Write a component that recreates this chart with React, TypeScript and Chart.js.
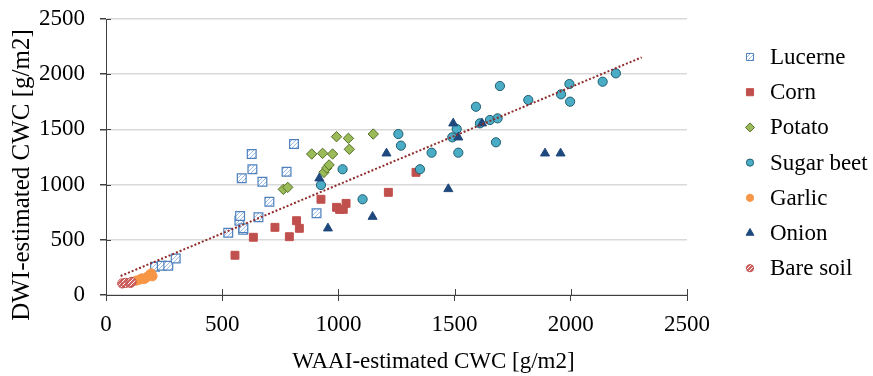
import React, { useEffect, useRef } from 'react';
import { Chart, registerables } from 'chart.js';
import { drawPoint } from 'chart.js/helpers';

Chart.register(...registerables);

// ---------- data ----------
const lucerneX = [211, 240, 268, 300, 526, 574, 577, 590, 591, 584, 627, 630, 656, 673, 703, 777, 809, 906];
const lucerneY = [256, 265, 265, 330, 564, 673, 716, 590, 604, 1057, 1277, 1139, 704, 1026, 845, 1117, 1368, 740];

const cornX = [555, 634, 727, 789, 820, 832, 925, 992, 1005, 1021, 1033, 1215, 1334];
const cornY = [360, 523, 613, 528, 673, 604, 867, 794, 775, 776, 830, 930, 1111];

const potatoX = [763, 782, 885, 932, 975, 938, 950, 960, 992, 1043, 1047, 1150];
const potatoY = [957, 975, 1277, 1283, 1277, 1111, 1150, 1178, 1434, 1419, 1320, 1458];

const sugarBeetX = [925, 1018, 1104, 1258, 1269, 1351, 1401, 1490, 1509, 1516, 1592, 1609, 1652, 1678, 1685, 1695, 1817, 1958, 1994, 1997, 2137, 2194];
const sugarBeetY = [996, 1139, 867, 1458, 1353, 1139, 1289, 1428, 1504, 1289, 1705, 1555, 1585, 1383, 1600, 1893, 1766, 1818, 1911, 1751, 1932, 2008];

const garlicX = [130, 145, 155, 165, 175, 185, 195, 200];
const garlicY = [130, 140, 150, 145, 160, 180, 195, 170];

const onionX = [918, 955, 1147, 1207, 1473, 1494, 1516, 1618, 1889, 1956];
const onionY = [1057, 604, 709, 1283, 960, 1555, 1428, 1555, 1283, 1283];

const bareSoilX = [70, 85, 105, 110];
const bareSoilY = [105, 110, 110, 118];

const trendX = [63, 2305];
const trendY = [172, 2153];

const axisTicks = [0, 500, 1000, 1500, 2000, 2500];
const xTitle = 'WAAI-estimated CWC [g/m2]';
const yTitle = 'DWI-estimated CWC [g/m2]';

// ---------- styles ----------
const FONT = "'Liberation Serif', 'Times New Roman', serif";
const FONT_SIZE = 23;
const AXIS_COLOR = '#404040';

const pts = (xs: number[], ys: number[]) => xs.map((x, i) => ({ x, y: ys[i] }));

function makePattern(bg: string, fg: string, size: number, lw: number): CanvasPattern | string {
  const c = document.createElement('canvas');
  c.width = size;
  c.height = size;
  const g = c.getContext('2d');
  if (!g) return bg;
  g.fillStyle = bg;
  g.fillRect(0, 0, size, size);
  g.strokeStyle = fg;
  g.lineWidth = lw;
  g.beginPath();
  g.moveTo(0, size);
  g.lineTo(size, 0);
  g.moveTo(-size / 2, size / 2);
  g.lineTo(size / 2, -size / 2);
  g.moveTo(size / 2, size * 1.5);
  g.lineTo(size * 1.5, size / 2);
  g.stroke();
  const p = g.createPattern(c, 'repeat');
  return p || bg;
}

export default function App() {
  const ref = useRef<HTMLCanvasElement | null>(null);

  useEffect(() => {
    document.body.style.margin = '0';
    const canvas = ref.current;
    if (!canvas) return;

    const lucerneFill = makePattern('#ffffff', '#9DBCE6', 4, 1);
    const bareFill = makePattern('#D46565', '#ffffff', 4, 1);

    const series = [
      { name: 'Lucerne', xs: lucerneX, ys: lucerneY, style: 'rect', r: 6.2, lr: 5, fill: lucerneFill, border: '#4F81BD', bw: 1.2 },
      { name: 'Corn', xs: cornX, ys: cornY, style: 'rect', r: 5.6, lr: 5, fill: '#C0504D', border: '#C0504D', bw: 1 },
      { name: 'Potato', xs: potatoX, ys: potatoY, style: 'rectRot', r: 5.2, lr: 4.5, fill: '#9BBB59', border: '#56702A', bw: 1 },
      { name: 'Sugar beet', xs: sugarBeetX, ys: sugarBeetY, style: 'circle', r: 4.6, lr: 3.6, fill: '#4BACC6', border: '#1F5F72', bw: 1 },
      { name: 'Garlic', xs: garlicX, ys: garlicY, style: 'circle', r: 4.6, lr: 3.6, fill: '#F79646', border: '#F79646', bw: 1 },
      { name: 'Onion', xs: onionX, ys: onionY, style: 'triangle', r: 5.2, lr: 4.5, fill: '#1F497D', border: '#1F497D', bw: 1 },
      { name: 'Bare soil', xs: bareSoilX, ys: bareSoilY, style: 'circle', r: 4.6, lr: 3.6, fill: bareFill, border: '#C0504D', bw: 1 },
    ];

    const datasets: any[] = series.map((s, i) => ({
      label: s.name,
      data: pts(s.xs, s.ys),
      pointStyle: s.style,
      pointRadius: s.r,
      backgroundColor: s.fill,
      borderColor: s.border,
      borderWidth: s.bw,
      showLine: false,
      order: series.length - i,
    }));
    datasets.push({
      label: 'Trend',
      data: pts(trendX, trendY),
      showLine: true,
      pointRadius: 0,
      borderColor: '#8E2B2B',
      borderWidth: 2,
      borderDash: [2, 2],
      borderCapStyle: 'butt',
      fill: false,
      order: 0,
    });

    const bgPlugin = {
      id: 'bg',
      beforeDraw(chart: any) {
        const c = chart.ctx;
        c.save();
        c.fillStyle = '#ffffff';
        c.fillRect(0, 0, chart.width, chart.height);
        c.restore();
      },
    };

    const innerTicks = {
      id: 'innerTicks',
      beforeDatasetsDraw(chart: any) {
        const c = chart.ctx;
        const xs = chart.scales.x;
        const ys = chart.scales.y;
        const area = chart.chartArea;
        c.save();
        c.strokeStyle = AXIS_COLOR;
        c.lineWidth = 1;
        c.beginPath();
        xs.ticks.forEach((t: any) => {
          const px = Math.round(xs.getPixelForValue(t.value)) + 0.5;
          c.moveTo(px, area.bottom);
          c.lineTo(px, area.bottom - 6);
        });
        ys.ticks.forEach((t: any) => {
          const py = Math.round(ys.getPixelForValue(t.value)) + 0.5;
          c.moveTo(area.left, py);
          c.lineTo(area.left + 5, py);
        });
        c.stroke();
        c.restore();
      },
    };

    const titlesPlugin = {
      id: 'axisTitles',
      afterDraw(chart: any) {
        const c = chart.ctx;
        const area = chart.chartArea;
        c.save();
        c.fillStyle = '#000000';
        c.font = `${FONT_SIZE}px ${FONT}`;
        c.textAlign = 'center';
        c.textBaseline = 'alphabetic';
        c.fillText(xTitle, (area.left + area.right) / 2 + 37, chart.height - 8);
        c.translate(22, (area.top + area.bottom) / 2 + 18);
        c.rotate(-Math.PI / 2);
        c.font = `25px ${FONT}`;
        c.textBaseline = 'middle';
        c.fillText(yTitle, 0, 0);
        c.restore();
      },
    };

    const legendPlugin = {
      id: 'sideLegend',
      afterDraw(chart: any) {
        const c = chart.ctx;
        const area = chart.chartArea;
        const mx = area.right + 63;
        const top = 57;
        const step = 35.2;
        c.save();
        c.font = `${FONT_SIZE}px ${FONT}`;
        c.textBaseline = 'middle';
        c.textAlign = 'left';
        series.forEach((s, i) => {
          const y = top + i * step;
          c.fillStyle = s.fill as any;
          c.strokeStyle = s.border;
          c.lineWidth = 1;
          drawPoint(c, { pointStyle: s.style as any, radius: s.lr, rotation: 0, borderWidth: 1 } as any, mx, y);
          c.fillStyle = '#000000';
          c.fillText(s.name, mx + 20, y + 1);
        });
        c.restore();
      },
    };

    const tickFont = { family: FONT, size: FONT_SIZE };
    const plain = (v: any) => String(v);

    const chart = new Chart(canvas, {
      type: 'scatter',
      data: { datasets },
      plugins: [bgPlugin, innerTicks, titlesPlugin, legendPlugin],
      options: {
        responsive: false,
        animation: false,
        events: [],
        layout: { padding: { top: 19, right: 186, bottom: 0, left: 0 } },
        plugins: {
          legend: { display: false },
          tooltip: { enabled: false },
        },
        scales: {
          x: {
            type: 'linear',
            min: axisTicks[0],
            max: axisTicks[axisTicks.length - 1],
            afterBuildTicks: (s: any) => { s.ticks = axisTicks.map((v) => ({ value: v })); },
            ticks: { color: '#000', font: tickFont, padding: 10, maxRotation: 0, autoSkip: false, callback: plain },
            grid: { drawOnChartArea: false, drawTicks: true, tickLength: 6, tickColor: AXIS_COLOR, color: AXIS_COLOR },
            border: { display: true, color: AXIS_COLOR, width: 1 },
            title: { display: false },
            afterFit: (s: any) => { s.height = 81; s.paddingLeft = 0; s.paddingRight = 0; },
          },
          y: {
            type: 'linear',
            min: axisTicks[0],
            max: axisTicks[axisTicks.length - 1],
            afterBuildTicks: (s: any) => { s.ticks = axisTicks.map((v) => ({ value: v })); },
            ticks: { color: '#000', font: tickFont, padding: 15, autoSkip: false, callback: plain },
            grid: { color: '#D9D9D9', tickColor: AXIS_COLOR, tickLength: 6, lineWidth: 1.5 },
            border: { display: true, color: AXIS_COLOR, width: 1 },
            title: { display: false },
            afterFit: (s: any) => { s.width = 106; s.paddingTop = 0; s.paddingBottom = 0; },
          },
        },
      } as any,
    });

    return () => chart.destroy();
  }, []);

  return (
    <div style={{ position: 'absolute', left: 0, top: 0, width: 873, height: 376, background: '#fff' }}>
      <canvas ref={ref} width={873} height={376} style={{ display: 'block', width: 873, height: 376 }} />
    </div>
  );
}
